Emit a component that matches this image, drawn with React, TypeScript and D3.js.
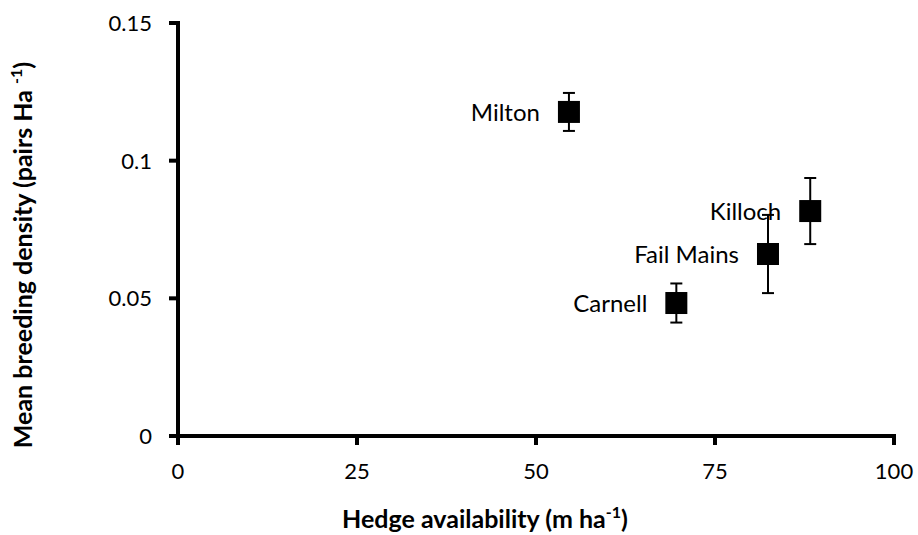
import React from "react";
import * as d3 from "d3";

// values
const sites = ["Milton", "Carnell", "Fail Mains", "Killoch"];
const hedge = [54.6, 69.6, 82.4, 88.3];
const density = [0.1177, 0.0483, 0.0661, 0.0817];
const errors = [0.0069, 0.0071, 0.0142, 0.012];
const xTicks = [0, 25, 50, 75, 100];
const yTicks = [0, 0.05, 0.1, 0.15];

const WIDTH = 918;
const HEIGHT = 535;
const FONT = "Lato, 'Open Sans', sans-serif";

const App: React.FunctionComponent = function () {
  const x = d3.scaleLinear().domain([0, 100]).range([178, 894]);
  const y = d3.scaleLinear().domain([0, 0.15]).range([436, 23]);
  const box = 22;
  const cap = 6;

  return (
    <svg
      width={WIDTH}
      height={HEIGHT}
      style={{ position: "absolute", left: 0, top: 0, background: "#fff" }}
      fontFamily={FONT}
    >
      {/* error bars */}
      {sites.map((s, i) => {
        const cx = x(hedge[i]);
        const top = y(density[i] + errors[i]);
        const bot = y(density[i] - errors[i]);
        return (
          <g key={"e" + s} stroke="#000" strokeWidth={2}>
            <line x1={cx} x2={cx} y1={top} y2={bot} />
            <line x1={cx - cap} x2={cx + cap} y1={top} y2={top} />
            <line x1={cx - cap} x2={cx + cap} y1={bot} y2={bot} />
          </g>
        );
      })}

      {/* markers */}
      {sites.map((s, i) => (
        <rect
          key={"m" + s}
          x={x(hedge[i]) - box / 2}
          y={y(density[i]) - box / 2}
          width={box}
          height={box}
          fill="#000"
        />
      ))}

      {/* point labels */}
      {sites.map((s, i) => (
        <text
          key={"l" + s}
          x={x(hedge[i]) - 29}
          y={y(density[i]) + 9}
          textAnchor="end"
          fontSize={24}
          fill="#000"
        >
          {s}
        </text>
      ))}

      {/* y axis */}
      <line x1={178} x2={178} y1={y(0.15) - 2} y2={y(0) + 2} stroke="#000" strokeWidth={4} />
      {yTicks.map((t) => (
        <g key={"yt" + t}>
          <line x1={169} x2={178} y1={y(t)} y2={y(t)} stroke="#000" strokeWidth={4} />
          <text x={152} y={y(t) + 8} textAnchor="end" fontSize={22}>
            {t === 0 ? "0" : d3.format("")(t)}
          </text>
        </g>
      ))}

      {/* x axis */}
      <line x1={176} x2={x(100) + 2} y1={436} y2={436} stroke="#000" strokeWidth={4} />
      {xTicks.map((t) => (
        <g key={"xt" + t}>
          <line x1={x(t)} x2={x(t)} y1={436} y2={445} stroke="#000" strokeWidth={4} />
          <text x={x(t)} y={479} textAnchor="middle" fontSize={22}>
            {t}
          </text>
        </g>
      ))}

      {/* axis titles */}
      <text x={485} y={528} textAnchor="middle" fontSize={25} fontWeight="bold">
        Hedge availability (m ha
        <tspan fontSize={16} dy={-10}>-1</tspan>
        <tspan dy={10}>)</tspan>
      </text>
      <text
        transform="translate(32,255) rotate(-90)"
        textAnchor="middle"
        fontSize={25}
        fontWeight="bold"
      >
        Mean breeding density (pairs Ha{" "}
        <tspan fontSize={16} dy={-10}>-1</tspan>
        <tspan dy={10}>)</tspan>
      </text>
    </svg>
  );
};

export default App;
